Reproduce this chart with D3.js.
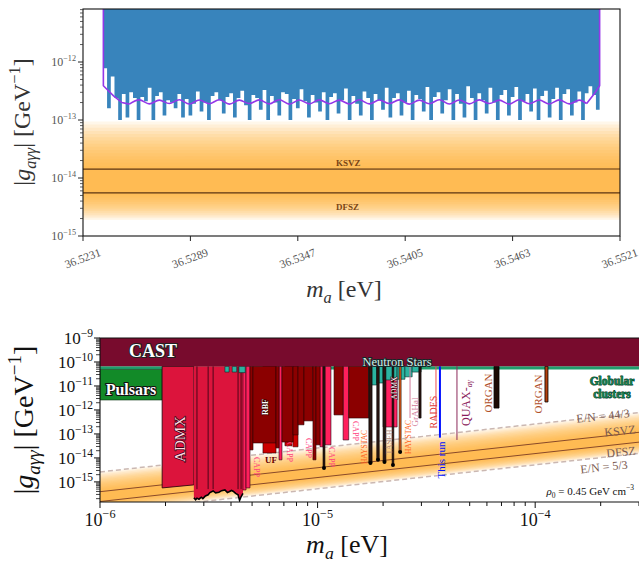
<!DOCTYPE html>
<html>
<head>
<meta charset="utf-8">
<script src="https://cdn.jsdelivr.net/npm/d3@7"></script>
<style>
    body { margin: 0; background: #fff; }
    svg { display: block; font-family: "Liberation Serif", "DejaVu Serif", serif; }
</style>
</head>
<body>
<svg id="chart" width="639" height="563"></svg>
<script>
// ---------- top panel: this run (mass in ueV, g in units of 1e-13 GeV^-1) ----------
const topMassTicks = [36.5231, 36.5289, 36.5347, 36.5405, 36.5463, 36.5521];
const binStart = 36.5242, binWidth = 0.0002;
const binLimits = [
    7.8, 1.6, 5.6, 2.4, 1.0, 2.8, 1.1, 3.0, 2.4, 1.0, 2.5, 2.1, 3.6, 1.0, 2.6, 3.0, 1.2, 2.2, 2.0, 1.6,
    2.8, 1.1, 2.3, 1.2, 1.9, 3.1, 1.4, 2.0, 1.0, 2.6, 3.0, 2.2, 1.3, 2.5, 2.9, 1.1, 2.4, 3.2, 1.8, 1.0,
    2.7, 2.4, 1.5, 3.3, 1.0, 2.6, 2.0, 1.2, 3.0, 2.8, 1.0, 2.3, 1.6, 3.4, 2.1, 1.1, 2.7, 2.0, 1.4, 3.0,
    1.0, 2.5, 2.9, 1.3, 2.2, 3.5, 1.0, 2.6, 1.9, 1.2, 3.1, 2.4, 1.0, 2.8, 2.2, 1.5, 3.6, 1.1, 2.4, 2.9,
    1.2, 2.0, 3.2, 1.0, 2.7, 2.3, 1.4, 3.7, 1.0, 2.5, 3.0, 1.3, 2.2, 3.4, 1.0, 2.8, 1.9, 1.1, 3.8, 2.4,
    1.0, 2.9, 2.2, 1.3, 3.6, 2.0, 1.0, 2.7, 3.3, 1.2, 2.5, 3.7, 1.0, 2.1, 2.8, 1.4, 3.5, 1.0, 2.6, 3.2,
    1.1, 2.3, 3.6, 1.0, 2.8, 3.4, 1.2, 2.0, 3.1, 1.0, 2.9, 3.8, 2.7, 1.5
];
const expectedLeft = [[36.5242, 82], [36.5242, 3.9], [36.52475, 2.6], [36.5252, 2.0], [36.5256, 1.88]];
const expectedWave = [
    [36.52560, 1.88], [36.52614, 2.22], [36.52668, 1.90], [36.52722, 2.20], [36.52776, 1.92], [36.52830, 2.24],
    [36.52884, 1.89], [36.52938, 2.21], [36.52992, 1.91], [36.53046, 2.23], [36.53100, 1.88], [36.53154, 2.20],
    [36.53208, 1.92], [36.53262, 2.22], [36.53316, 1.90], [36.53370, 2.24], [36.53424, 1.88], [36.53478, 2.21],
    [36.53532, 1.90], [36.53586, 2.22], [36.53640, 1.91], [36.53694, 2.20], [36.53748, 1.89], [36.53802, 2.23],
    [36.53856, 1.90], [36.53910, 2.21], [36.53964, 1.92], [36.54018, 2.22], [36.54072, 1.88], [36.54126, 2.20],
    [36.54180, 1.91], [36.54234, 2.24], [36.54288, 1.89], [36.54342, 2.21], [36.54396, 1.90], [36.54450, 2.22],
    [36.54504, 1.92], [36.54558, 2.20], [36.54612, 1.88], [36.54666, 2.23], [36.54720, 1.91], [36.54774, 2.21],
    [36.54828, 1.89], [36.54882, 2.22], [36.54936, 1.90], [36.54990, 2.20], [36.55030, 1.92]
];
const expectedRight = [[36.55030, 1.92], [36.5507, 2.8], [36.5510, 3.9], [36.5510, 82]];

// ---------- QCD axion models: E/N values, g at 1 ueV for KSVZ ----------
const gKSVZ1ueV = 3.9e-16;
const enKSVZ = 0, enDFSZ = 8 / 3, enHigh = 44 / 3, enLow = 5 / 3;

// ---------- bottom panel: limits (mass eV, g GeV^-1) ----------
const castRange = [6.6e-11, 1e-9];
const globularRange = [4.9e-11, 6.6e-11];
const pulsarBox = [1e-6, 1.93e-6, 2.6e-12, 4.9e-11];
const admxOld = [[1.93e-6, 2.70e-6, 5.6e-16, 7.5e-16]];
const admxDeepEdge = [
    [2.70e-6, 2.2e-16], [2.75e-6, 1.8e-16], [2.79e-6, 2.1e-16], [2.85e-6, 1.9e-16], [2.92e-6, 2.3e-16],
    [2.97e-6, 2.0e-16], [3.05e-6, 2.6e-16], [3.14e-6, 2.9e-16], [3.20e-6, 3.6e-16], [3.31e-6, 4.2e-16],
    [3.40e-6, 3.5e-16], [3.52e-6, 3.7e-16], [3.62e-6, 4.3e-16], [3.75e-6, 4.6e-16], [3.85e-6, 3.6e-16],
    [3.92e-6, 3.9e-16], [4.02e-6, 4.4e-16], [4.09e-6, 4.1e-16], [4.20e-6, 3.3e-16], [4.31e-6, 2.9e-16],
    [4.38e-6, 1.7e-16], [4.45e-6, 2.4e-16], [4.54e-6, 3.3e-16]
];
const admxSeparators = [2.79e-6, 3.14e-6, 3.31e-6, 4.31e-6, 4.45e-6];
const admxHigh = [[2.00e-5, 2.32e-5, 1.95e-13]];
const capp = [
    [4.54e-6, 4.69e-6, 4.6e-16], [4.69e-6, 4.89e-6, 5.6e-16], [6.65e-6, 6.86e-6, 8.3e-15],
    [1.026e-5, 1.059e-5, 2.9e-14], [1.081e-5, 1.152e-5, 3.5e-14], [1.31e-5, 1.39e-5, 5.6e-14]
];
const uf = [[5.61e-6, 6.44e-6, 1.6e-14], [7.08e-6, 7.63e-6, 3.2e-14], [7.71e-6, 8.13e-6, 2.9e-14]];
const rbf = [
    [4.89e-6, 5.05e-6, 2.15e-14], [5.05e-6, 6.44e-6, 4.2e-14], [6.44e-6, 6.65e-6, 2.6e-14],
    [6.86e-6, 7.71e-6, 4.6e-14], [7.71e-6, 8.13e-6, 9.1e-14], [8.13e-6, 8.66e-6, 2.4e-13],
    [8.66e-6, 9.52e-6, 3.5e-13], [9.52e-6, 9.83e-6, 8.3e-15], [9.83e-6, 1.026e-5, 3.5e-14],
    [1.19e-5, 1.31e-5, 6.2e-13], [1.39e-5, 1.72e-5, 4.6e-13]
];
const neutronStars = [
    [3.75e-6, 3.92e-6, 3.8e-11], [4.05e-6, 4.25e-6, 3.8e-11], [4.35e-6, 4.65e-6, 3.6e-11],
    [1.72e-5, 1.87e-5, 1.1e-11], [1.87e-5, 2.00e-5, 1.33e-11], [2.00e-5, 2.32e-5, 1.78e-11],
    [2.32e-5, 2.52e-5, 1.9e-11], [2.52e-5, 2.72e-5, 2.4e-11], [2.72e-5, 2.99e-5, 3.8e-11]
];
const haystacTaseh = [
    [1.059e-5, 1.081e-5, 3.8e-15], [1.72e-5, 1.78e-5, 6.2e-15], [1.87e-5, 1.92e-5, 8.3e-15],
    [2.00e-5, 2.06e-5, 6.8e-15], [2.20e-5, 2.24e-5, 5.1e-15], [2.92e-5, 2.99e-5, 4.6e-13]
];
const haystacOrange = [[2.37e-5, 2.42e-5, 1.78e-14]];
const organ = [[6.47e-5, 6.82e-5, 1.2e-12], [1.109e-4, 1.145e-4, 2.15e-12]];
const thinLines = [
    { name: "GrAHal", m: 2.66e-5, g: 4.6e-13, color: "#d27a9a", w: 1 },
    { name: "RADES", m: 3.50e-5, g: 3.8e-13, color: "#f05050", w: 1 },
    { name: "This run", m: 3.65e-5, g: 7e-14, color: "#0010ff", w: 2 },
    { name: "QUAX", m: 4.37e-5, g: 5.6e-14, color: "#8c2a5a", w: 1 }
];

// ---------- helpers ----------
const svg = d3.select("#chart");

function gModel(mEv, en) {
    return gKSVZ1ueV * (mEv / 1e-6) * Math.abs(en - 1.92) / 1.92;
}

function rich(text, parts, fs) {
    let shift = 0;
    parts.forEach(p => {
        const target = p.sub ? 0.24 * fs : p.sup ? -0.42 * fs : 0;
        const ts = text.append("tspan").text(p.t).attr("dy", target - shift);
        shift = target;
        if (p.sub || p.sup) ts.attr("font-size", 0.68 * fs);
        if (p.italic) ts.attr("font-style", "italic");
    });
    return text;
}

const pow10 = e => [{ t: "10" }, { t: "\u2212" + Math.abs(e), sup: true }];
const gLabel = [{ t: "|" }, { t: "g", italic: true }, { t: "a\u03b3\u03b3", italic: true, sub: true },
    { t: "| [GeV" }, { t: "\u22121", sup: true }, { t: "]" }];
const mLabel = [{ t: "m", italic: true }, { t: "a", italic: true, sub: true }, { t: " [eV]" }];

function band(g, x, y, masses, toEv) {
    const N = 15, col = "#fbb52f";
    const lg = (m, en) => Math.log10(gModel(toEv(m), en));
    for (let i = 0; i <= N; i++) {
        const t = i / N;
        const up = m => Math.pow(10, lg(m, enHigh) + t * (lg(m, enKSVZ) - lg(m, enHigh)));
        const lo = m => Math.pow(10, lg(m, enLow) + t * (lg(m, enDFSZ) - lg(m, enLow)));
        const pts = masses.map(m => [x(m), y(up(m))]).concat(masses.slice().reverse().map(m => [x(m), y(lo(m))]));
        g.append("path").attr("d", d3.line()(pts) + "Z").attr("fill", col).attr("fill-opacity", 0.1);
    }
}

function logTicks(lo, hi) {
    const major = [], minor = [];
    for (let d = Math.floor(Math.log10(lo)); d <= Math.ceil(Math.log10(hi)); d++) {
        for (let k = 1; k <= 9; k++) {
            const v = k * Math.pow(10, d);
            if (v < lo * 0.999 || v > hi * 1.001) continue;
            (k === 1 ? major : minor).push(v);
        }
    }
    return { major, minor };
}

// ================= TOP PANEL =================
const tx = d3.scaleLinear().domain([36.5231, 36.5521]).range([83, 620]);
const ty = d3.scaleLog().domain([1e-15, 8.2e-12]).range([236, 9]);
const topG = svg.append("g");

band(topG, tx, ty, tx.domain(), m => m * 1e-6);
[enKSVZ, enDFSZ].forEach(en => {
    topG.append("path")
        .attr("d", d3.line()(tx.domain().map(m => [tx(m), ty(gModel(m * 1e-6, en))])))
        .attr("stroke", "#5c3412").attr("stroke-width", 1.1).attr("fill", "none");
});
topG.append("text").attr("x", 336).attr("y", 166).text("KSVZ")
    .attr("font-size", 9).attr("font-weight", "bold").attr("fill", "#7a4514");
topG.append("text").attr("x", 336).attr("y", 210).text("DFSZ")
    .attr("font-size", 9).attr("font-weight", "bold").attr("fill", "#7a4514");

const bins = binLimits.map((v, i) => ({ m: binStart + i * binWidth, g: v * 1e-13 }));
bins.push({ m: binStart + binLimits.length * binWidth, g: binLimits[binLimits.length - 1] * 1e-13 });
topG.append("path").datum(bins)
    .attr("d", d3.area().x(d => tx(d.m)).y0(ty(8.2e-12)).y1(d => ty(d.g)).curve(d3.curveStepAfter))
    .attr("fill", "#3884bc");

const purple = "#9437e8";
[expectedLeft, expectedRight].forEach(seg => {
    topG.append("path").attr("d", d3.line().x(d => tx(d[0])).y(d => ty(d[1] * 1e-13))(seg))
        .attr("stroke", purple).attr("stroke-width", 1.6).attr("fill", "none");
});
topG.append("path")
    .attr("d", d3.line().x(d => tx(d[0])).y(d => ty(d[1] * 1e-13)).curve(d3.curveCatmullRom)(expectedWave))
    .attr("stroke", purple).attr("stroke-width", 1.6).attr("fill", "none");

topG.append("rect").attr("x", 83).attr("y", 9).attr("width", 537).attr("height", 227)
    .attr("fill", "none").attr("stroke", "#111").attr("stroke-width", 1.1);

// top axes
topMassTicks.forEach(m => {
    topG.append("line").attr("x1", tx(m)).attr("x2", tx(m)).attr("y1", 236).attr("y2", 241).attr("stroke", "#222");
    topG.append("text").attr("transform", `translate(${tx(m) + 1},${262}) rotate(-20)`)
        .attr("text-anchor", "middle").attr("font-size", 11.5).attr("fill", "#555").text(m.toFixed(4));
});
const tyT = logTicks(1e-15, 8.2e-12);
tyT.minor.forEach(v => topG.append("line").attr("x1", 80).attr("x2", 83).attr("y1", ty(v)).attr("y2", ty(v)).attr("stroke", "#333").attr("stroke-width", 0.8));
tyT.major.forEach(v => {
    topG.append("line").attr("x1", 78).attr("x2", 83).attr("y1", ty(v)).attr("y2", ty(v)).attr("stroke", "#222");
    rich(topG.append("text").attr("x", 76).attr("y", ty(v) + 4).attr("text-anchor", "end")
        .attr("font-size", 12).attr("fill", "#555"), pow10(Math.round(Math.log10(v))), 12);
});
rich(topG.append("text").attr("transform", "translate(30,122) rotate(-90)").attr("text-anchor", "middle")
    .attr("font-size", 24).attr("fill", "#333"), gLabel, 24);
rich(topG.append("text").attr("x", 344).attr("y", 297).attr("text-anchor", "middle")
    .attr("font-size", 24).attr("fill", "#333"), mLabel, 24);

// ================= BOTTOM PANEL =================
const bx = d3.scaleLog().domain([1e-6, 3e-4]).range([100, 639]);
const by = d3.scaleLog().domain([1.45e-16, 1e-9]).range([502, 338]);
const gTop = castRange[0];

svg.append("clipPath").attr("id", "clipB").append("rect")
    .attr("x", 100).attr("y", 338).attr("width", 539).attr("height", 164);
const bot = svg.append("g").attr("clip-path", "url(#clipB)");

band(bot, bx, by, bx.domain(), m => m);
[[enHigh, true], [enLow, true], [enKSVZ, false], [enDFSZ, false]].forEach(([en, dashed]) => {
    bot.append("path").attr("d", d3.line()(bx.domain().map(m => [bx(m), by(gModel(m, en))])))
        .attr("fill", "none")
        .attr("stroke", dashed ? "#cbb8b2" : "#8a4a2a")
        .attr("stroke-width", dashed ? 1.5 : 1)
        .attr("stroke-dasharray", dashed ? "5,3" : null);
});

function boxPath(lo, hi, gLo, gHi) {
    return d3.line()([[bx(lo), by(gHi)], [bx(hi), by(gHi)], [bx(hi), by(gLo)], [bx(lo), by(gLo)]]) + "Z";
}
function columns(data, fill, stroke, sw) {
    data.forEach(c => {
        const b1 = c[2], b2 = c.length > 3 ? c[3] : c[2];
        const pts = [[bx(c[0]), by(gTop)], [bx(c[1]), by(gTop)], [bx(c[1]), by(b2)], [bx(c[0]), by(b1)]];
        bot.append("path").attr("d", d3.line()(pts) + "Z").attr("fill", fill)
            .attr("stroke", stroke).attr("stroke-width", sw);
    });
}

bot.append("path").attr("d", boxPath(1e-6, 3e-4, globularRange[0], globularRange[1])).attr("fill", "#1f9e6c");
bot.append("path").attr("d", boxPath(pulsarBox[0], pulsarBox[1], pulsarBox[2], pulsarBox[3]))
    .attr("fill", "#128a28").attr("stroke", "#0a3010").attr("stroke-width", 0.6);

columns(admxOld, "#dc143c", "#1a0008", 0.8);
const deepPts = [[bx(admxDeepEdge[0][0]), by(gTop)], [bx(admxDeepEdge[admxDeepEdge.length - 1][0]), by(gTop)]]
    .concat(admxDeepEdge.slice().reverse().map(d => [bx(d[0]), by(d[1])]));
bot.append("path").attr("d", d3.line()(deepPts) + "Z").attr("fill", "#dc143c");
admxSeparators.forEach(m => bot.append("line").attr("x1", bx(m)).attr("x2", bx(m))
    .attr("y1", by(gTop)).attr("y2", by(5e-16)).attr("stroke", "#2a0010").attr("stroke-width", 0.8));
bot.append("path").attr("d", d3.line().x(d => bx(d[0])).y(d => by(d[1]))(admxDeepEdge))
    .attr("fill", "none").attr("stroke", "#000").attr("stroke-width", 1.6);

columns(capp, "#ff1f5c", "#2a0010", 0.6);
columns(uf, "#cc0000", "#2a0000", 0.6);
columns(rbf, "#8b0000", "#2a0000", 0.6);
columns(admxHigh, "#ff2060", "#2a0010", 0.6);
columns(neutronStars, "#2bb3a0", "#0c2a26", 0.6);
columns(haystacTaseh, "#2a1410", "#000", 0.6);
columns(haystacOrange, "#f06018", "#000", 0.6);
haystacTaseh.concat(haystacOrange).filter(c => c[2] < 1e-13).forEach(c => {
    bot.append("circle").attr("cx", bx(Math.sqrt(c[0] * c[1]))).attr("cy", by(c[2])).attr("r", 2).attr("fill", "#000");
});
thinLines.forEach(l => bot.append("line").attr("x1", bx(l.m)).attr("x2", bx(l.m))
    .attr("y1", by(gTop)).attr("y2", by(l.g)).attr("stroke", l.color).attr("stroke-width", l.w));
columns(organ.slice(0, 1), "#1c0a04", "#000", 0.8);
columns(organ.slice(1), "#b5400f", "#000", 0.8);

bot.append("path").attr("d", boxPath(1e-6, 3e-4, castRange[0], castRange[1])).attr("fill", "#780b2d");

// bottom labels
function outlined(x, y, str, fs, fill, stroke, sw, rot, extra) {
    const t = bot.append("text").attr("transform", `translate(${x},${y}) rotate(${rot || 0})`)
        .attr("text-anchor", "middle").attr("dominant-baseline", "central")
        .attr("font-size", fs).attr("fill", fill).text(str);
    if (stroke) t.attr("stroke", stroke).attr("stroke-width", sw).style("paint-order", "stroke").attr("stroke-linejoin", "round");
    if (extra) extra(t);
    return t;
}
outlined(153, 351, "CAST", 18, "#fff", "#222", 2.2, 0, t => t.attr("font-weight", "bold"));
outlined(131, 389, "Pulsars", 16, "#fff", "#111", 2.2, 0, t => t.attr("font-weight", "bold"));
outlined(180, 439, "ADMX", 15, "#ffd6e0", "#3a0010", 1.6, -90);
outlined(265, 407, "RBF", 8, "#fff", "#300", 1.2, -90, t => t.attr("font-weight", "bold"));
outlined(271, 460, "UF", 9, "#6a0000", null, 0, 0, t => t.attr("font-weight", "bold"));
[[256, 467], [289, 452], [308, 448], [331, 457], [355, 431]].forEach(p =>
    outlined(p[0], p[1], "CAPP", 8, "#ff3f7f", null, 0, 90));
outlined(364, 447, "HAYSTAC", 7.5, "#ff6420", null, 0, -90);
outlined(389, 442, "TASEH", 8, "#b48a78", null, 0, -90);
outlined(394, 388, "ADMX", 7.5, "#fff", "#400010", 1, -90);
outlined(408, 437, "HAYSTAC", 7.5, "#ff6420", null, 0, -90);
outlined(415, 412, "GrAHal", 9, "#d07a98", null, 0, -90);
outlined(433, 412, "RADES", 10, "#e0403a", null, 0, -90);
outlined(441, 460, "This run", 11, "#0010ff", null, 0, -90);
outlined(466, 403, "", 12, "#8a1c5c", null, 0, -90, t => rich(t, [{ t: "QUAX-" }, { t: "a\u03b3", italic: true, sub: true }], 12));
outlined(488, 393, "ORGAN", 11, "#b0502a", null, 0, -90);
outlined(538, 394, "ORGAN", 11, "#b0502a", null, 0, -90);
outlined(397, 362, "Neutron Stars", 12.5, "#d4ece8", "#102a28", 1.8, 0);
outlined(612, 381, "Globular", 11.5, "#117a4c", "#053020", 0.8, 0, t => t.attr("font-weight", "bold"));
outlined(612, 394, "clusters", 11.5, "#117a4c", "#053020", 0.8, 0, t => t.attr("font-weight", "bold"));

const modelColor = "#7a5a50";
[["E/N = 44/3", 603, 416], ["KSVZ", 620, 431], ["DFSZ", 621, 452], ["E/N = 5/3", 604, 467]].forEach(d =>
    outlined(d[1], d[2], d[0], 12, modelColor, null, 0, -6));
rich(bot.append("text").attr("x", 634).attr("y", 495).attr("text-anchor", "end").attr("font-size", 11).attr("fill", "#111"),
    [{ t: "\u03c1", italic: true }, { t: "0", sub: true }, { t: " = 0.45 GeV cm" }, { t: "\u22123", sup: true }], 11);

// bottom frame and axes
svg.append("path").attr("d", "M641,338H100V502H641").attr("fill", "none").attr("stroke", "#111").attr("stroke-width", 1.1);
const bxT = logTicks(1e-6, 3e-4);
bxT.minor.forEach(v => svg.append("line").attr("x1", bx(v)).attr("x2", bx(v)).attr("y1", 502).attr("y2", 506).attr("stroke", "#111"));
bxT.major.forEach(v => {
    svg.append("line").attr("x1", bx(v)).attr("x2", bx(v)).attr("y1", 502).attr("y2", 508).attr("stroke", "#111");
    rich(svg.append("text").attr("x", bx(v)).attr("y", 526).attr("text-anchor", "middle")
        .attr("font-size", 18).attr("fill", "#111"), pow10(Math.round(Math.log10(v))), 18);
});
const byT = logTicks(1.45e-16, 1e-9);
byT.minor.forEach(v => svg.append("line").attr("x1", 96).attr("x2", 100).attr("y1", by(v)).attr("y2", by(v)).attr("stroke", "#111").attr("stroke-width", 0.8));
byT.major.forEach(v => {
    svg.append("line").attr("x1", 94).attr("x2", 100).attr("y1", by(v)).attr("y2", by(v)).attr("stroke", "#111");
    rich(svg.append("text").attr("x", 93).attr("y", by(v) + 6).attr("text-anchor", "end")
        .attr("font-size", 17).attr("fill", "#111"), pow10(Math.round(Math.log10(v))), 17);
});
rich(svg.append("text").attr("transform", "translate(33,420) rotate(-90)").attr("text-anchor", "middle")
    .attr("font-size", 28).attr("fill", "#111"), gLabel, 28);
rich(svg.append("text").attr("x", 347).attr("y", 553).attr("text-anchor", "middle")
    .attr("font-size", 26).attr("fill", "#111"), mLabel, 26);
</script>
</body>
</html>
